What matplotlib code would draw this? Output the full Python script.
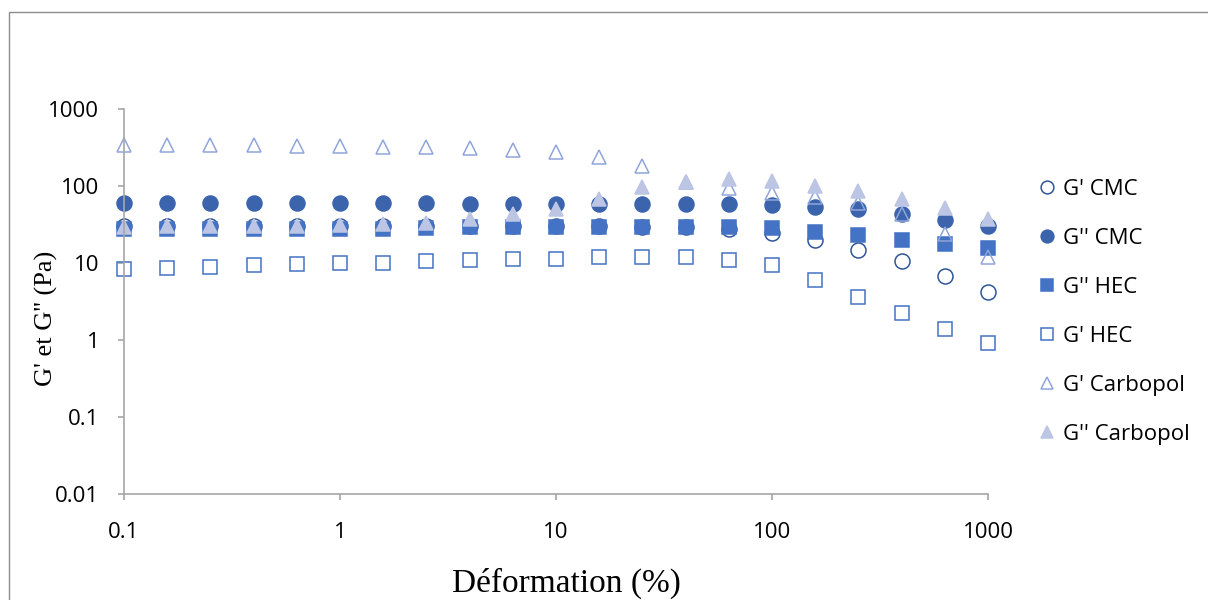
import matplotlib.pyplot as plt
from matplotlib.patches import Rectangle

# strain (%) - 5 points per decade
strain = [0.1, 0.158, 0.251, 0.398, 0.631, 1, 1.58, 2.51, 3.98, 6.31, 10,
          15.8, 25.1, 39.8, 63.1, 100, 158, 251, 398, 631, 1000]

# moduli (Pa)
gp_cmc = [30.5, 30, 30, 30, 30, 30, 30, 30, 30, 30, 30, 30, 29.6, 29, 27.4,
          24.3, 20.1, 14.9, 10.6, 6.84, 4.18]
gpp_cmc = [61, 61, 60.5, 60.5, 60, 60, 60, 60, 59, 59, 59, 59, 59, 59, 59,
           56.6, 54, 50, 43.3, 36.2, 30.4]
gpp_hec = [27.4, 27.9, 27.9, 27.9, 27.9, 27.9, 27.9, 28.6, 29.2, 29.7, 29.7,
           29.7, 29.7, 29.7, 29.7, 28.2, 25.6, 22.9, 20, 17.7, 15.8]
gp_hec = [8.36, 8.5, 8.9, 9.3, 9.6, 9.9, 10.1, 10.6, 10.9, 11.2, 11.4, 11.9,
          11.9, 11.8, 10.9, 9.3, 6.0, 3.6, 2.22, 1.39, 0.92]
gp_carbo = [340, 340, 340, 340, 330, 330, 324, 318, 309, 294, 275, 240, 182,
            112, 93, 80, 72.6, 59.6, 43.3, 23.6, 12.1]
gpp_carbo = [29.6, 29.8, 29.8, 30, 30.3, 30.8, 32, 33.4, 37, 43, 51, 68.5, 96,
             114, 122, 117, 101, 87, 67.8, 51.3, 37]

xticks = [0.1, 1, 10, 100, 1000]
xtick_labels = ['0.1', '1', '10', '100', '1000']
yticks = [0.01, 0.1, 1, 10, 100, 1000]
ytick_labels = ['0.01', '0.1', '1', '10', '100', '1000']

AXIS_GRAY = '#A6A6A6'
DARK_BLUE = '#2F5597'
MID_BLUE = '#3B64AD'
BLUE = '#4472C4'
LIGHT_BLUE = '#8FA5DA'
PALE_BLUE = '#BCC6E4'

fig = plt.figure(figsize=(12.08, 6.0), dpi=100)
ax = fig.add_axes([124/1208, 1 - 494/600, 864/1208, 385/600])

# outer chart border (runs off the right / bottom edge)
fig.patches.append(Rectangle((9/1208, -0.1), 1.2, (600 - 12)/600 + 0.1,
                             transform=fig.transFigure, fill=False,
                             edgecolor='#8C8C8C', linewidth=1.0))

ms = 10.8
series = [
    (gp_cmc, "G' CMC", 'o', 'none', DARK_BLUE, ms),
    (gpp_cmc, "G'' CMC", 'o', MID_BLUE, MID_BLUE, ms),
    (gpp_hec, "G'' HEC", 's', BLUE, BLUE, 10.4),
    (gp_hec, "G' HEC", 's', 'none', BLUE, 10.4),
    (gp_carbo, "G' Carbopol", '^', 'none', LIGHT_BLUE, 9.6),
    (gpp_carbo, "G'' Carbopol", '^', PALE_BLUE, PALE_BLUE, 9.6),
]
for vals, lab, mk, fc, ec, size in series:
    ax.plot(strain, vals, linestyle='none', marker=mk, markersize=size,
            markerfacecolor=fc, markeredgecolor=ec, markeredgewidth=1.1,
            label=lab, clip_on=False)

ax.set_xscale('log')
ax.set_yscale('log')
ax.set_xlim(0.1, 1000)
ax.set_ylim(0.01, 1000)
ax.set_xticks(xticks)
ax.set_xticklabels(xtick_labels)
ax.set_yticks(yticks)
ax.set_yticklabels(ytick_labels)
ax.minorticks_off()

for s in ['top', 'right']:
    ax.spines[s].set_visible(False)
for s in ['left', 'bottom']:
    ax.spines[s].set_color(AXIS_GRAY)
    ax.spines[s].set_linewidth(1.2)

ax.tick_params(axis='both', direction='out', length=4.3, width=1.2,
               color=AXIS_GRAY, labelsize=16, labelcolor='black')
ax.tick_params(axis='y', pad=13.5)
ax.tick_params(axis='x', pad=16)
for t in ax.get_xticklabels() + ax.get_yticklabels():
    t.set_fontfamily('Open Sans')

ax.set_xlabel('Déformation (%)', fontfamily='Liberation Serif', fontsize=24,
              va='center')
ax.xaxis.set_label_coords(0.512, -0.231)
ax.set_ylabel("G' et G'' (Pa)", fontfamily='Liberation Serif', fontsize=19,
              va='center')
ax.yaxis.set_label_coords(-0.09, 0.457)

leg = ax.legend(loc='center left', bbox_to_anchor=(1036/1208, 1 - 312/600),
                bbox_transform=fig.transFigure, frameon=False, borderpad=0,
                borderaxespad=0, handlelength=1.0, handletextpad=0.2,
                labelspacing=1.26, markerscale=0.85,
                prop={'family': 'Open Sans', 'size': 16})

fig.savefig('out.png', dpi=100, facecolor='white')
